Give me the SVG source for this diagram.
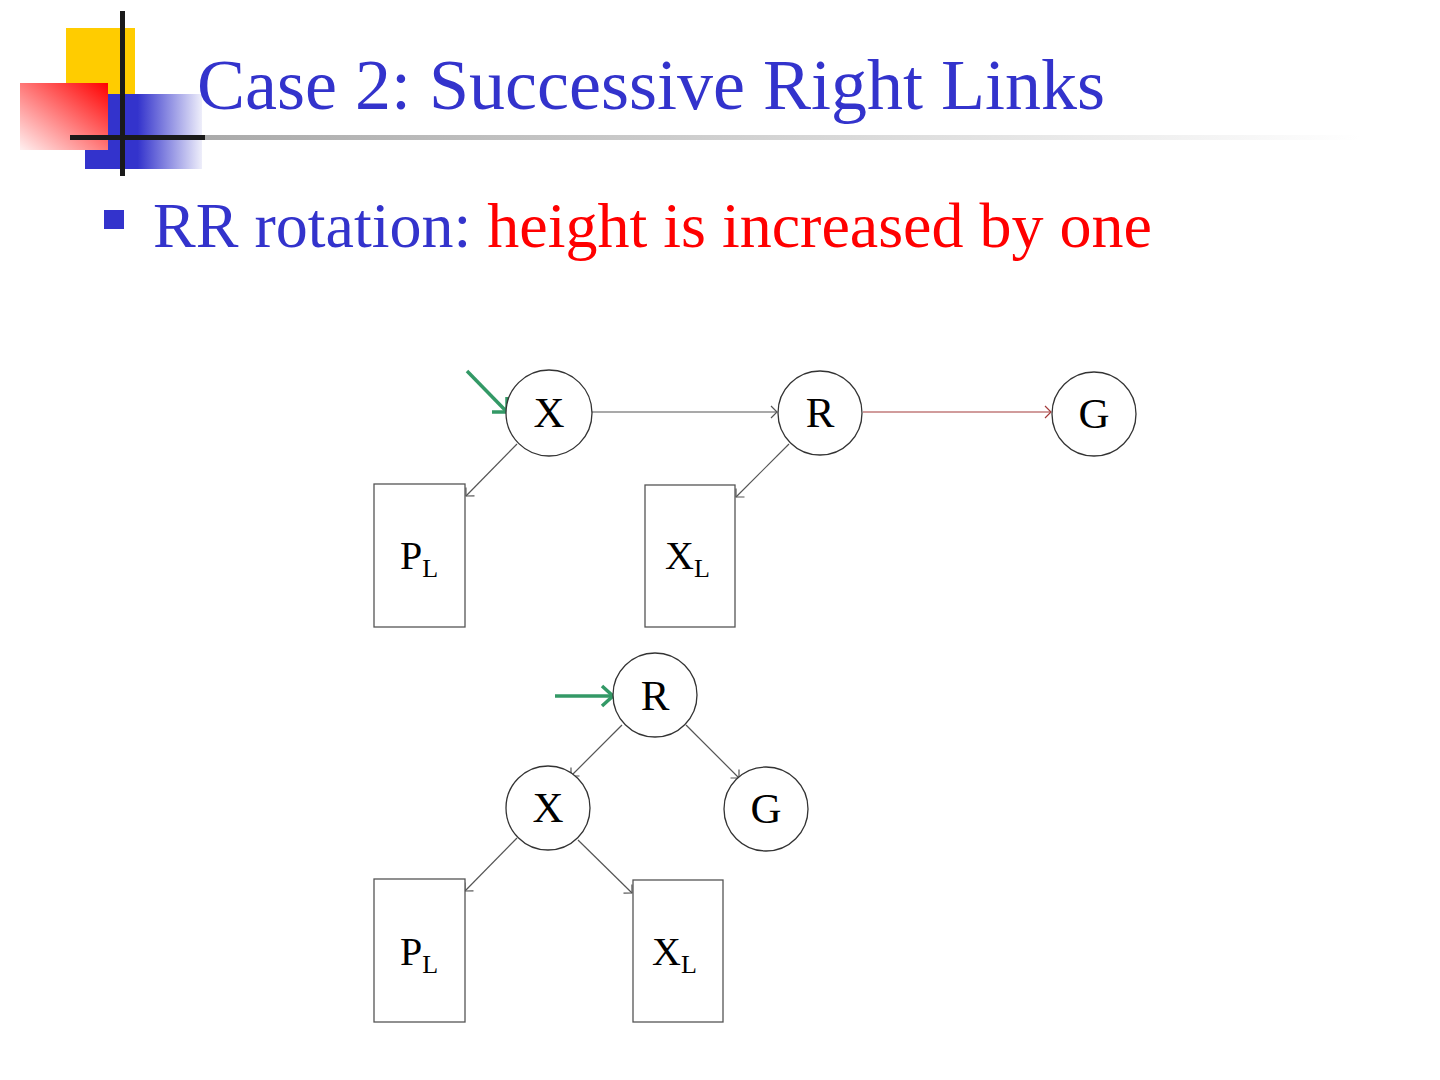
<svg xmlns="http://www.w3.org/2000/svg" width="1440" height="1080" viewBox="0 0 1440 1080">
<style>
.node circle{fill:#fff;stroke:#333;stroke-width:1.3}
.node rect{fill:#fff;stroke:#555;stroke-width:1.3}
.lbl{font-family:"Liberation Serif","Times New Roman",serif;fill:#000;font-size:43px}
.box{font-family:"Liberation Serif","Times New Roman",serif;fill:#000;font-size:40px}
.conn line{stroke:#555;stroke-width:1.2;fill:none}
.conn line.red{stroke:#a33a3a}
.conn .green{stroke:#339966;stroke-width:3.5;fill:none;stroke-linecap:butt}
</style>
<defs>
<linearGradient id="gRed" x1="1" y1="0" x2="0" y2="1">
<stop offset="0" stop-color="#ff0000"/>
<stop offset="1" stop-color="#fff0f0"/>
</linearGradient>
<linearGradient id="gBlue" x1="0" y1="0" x2="1" y2="0">
<stop offset="0" stop-color="#3333cc"/>
<stop offset="0.45" stop-color="#3333cc"/>
<stop offset="1" stop-color="#eeeefa"/>
</linearGradient>
<linearGradient id="gLine" x1="0" y1="0" x2="1" y2="0">
<stop offset="0" stop-color="#aaaaaa"/>
<stop offset="1" stop-color="#ffffff"/>
</linearGradient>
<marker id="ah" markerUnits="userSpaceOnUse" markerWidth="14" markerHeight="14" viewBox="-1 -7 9 14" refX="7" refY="0" orient="auto">
<path d="M1,-6 L7,0 L1,6" fill="none" stroke="#555" stroke-width="1.2"/>
</marker>
<marker id="ahr" markerUnits="userSpaceOnUse" markerWidth="14" markerHeight="14" viewBox="-1 -7 9 14" refX="7" refY="0" orient="auto">
<path d="M1,-6 L7,0 L1,6" fill="none" stroke="#a33a3a" stroke-width="1.2"/>
</marker>
</defs>

<g id="logo">
<rect x="66" y="28" width="69" height="66" fill="#ffcc00"/>
<rect x="85" y="94" width="117" height="75" fill="url(#gBlue)"/>
<rect x="20" y="83" width="88" height="67" fill="url(#gRed)"/>
<rect x="205" y="135" width="1155" height="5" fill="url(#gLine)"/>
<rect x="70" y="135" width="135" height="5" fill="#1a1a1a"/>
<rect x="120" y="11" width="5" height="165" fill="#1a1a1a"/>
</g>

<text id="title" x="197" y="109" font-family="Liberation Serif, Times New Roman, serif" font-size="72" fill="#3333cc">Case 2: Successive Right Links</text>

<g id="bullet">
<rect x="104" y="210" width="20" height="19" fill="#3333cc"/>
<text x="153" y="247" font-family="Liberation Serif, Times New Roman, serif" font-size="64"><tspan fill="#3333cc">RR rotation: </tspan><tspan fill="#ff0000">height is increased by one</tspan></text>
</g>

<g id="connectors" class="conn">
<line x1="592" y1="412" x2="777" y2="412" marker-end="url(#ah)"/>
<line class="red" x1="863" y1="412" x2="1051" y2="412" marker-end="url(#ahr)"/>
<line x1="517" y1="444" x2="466" y2="496" marker-end="url(#ah)"/>
<line x1="789" y1="444" x2="736" y2="497" marker-end="url(#ah)"/>
<line x1="622" y1="725" x2="571" y2="776" marker-end="url(#ah)"/>
<line x1="686" y1="725" x2="739" y2="778" marker-end="url(#ah)"/>
<line x1="517" y1="838" x2="465" y2="891" marker-end="url(#ah)"/>
<line x1="578" y1="840" x2="632" y2="893" marker-end="url(#ah)"/>
<g id="pointer1">
<line class="green" x1="467" y1="371" x2="506" y2="411"/>
<path class="green" d="M492,412 L507,412 L507,397"/>
</g>
<g id="pointer2">
<line class="green" x1="555" y1="696" x2="612" y2="696"/>
<path class="green" d="M602,686 L613,696 L602,706"/>
</g>
</g>

<g id="node-X1" class="node">
<circle cx="549" cy="413" r="43"/>
<text class="lbl" x="549" y="427" text-anchor="middle">X</text>
</g>
<g id="node-R1" class="node">
<circle cx="820" cy="413" r="42"/>
<text class="lbl" x="820" y="427" text-anchor="middle">R</text>
</g>
<g id="node-G1" class="node">
<circle cx="1094" cy="414" r="42"/>
<text class="lbl" x="1094" y="428" text-anchor="middle">G</text>
</g>
<g id="node-PL1" class="node">
<rect x="374" y="484" width="91" height="143"/>
<text class="box" x="400" y="569">P<tspan font-size="26" dy="8">L</tspan></text>
</g>
<g id="node-XL1" class="node">
<rect x="645" y="485" width="90" height="142"/>
<text class="box" x="665" y="569">X<tspan font-size="26" dy="8">L</tspan></text>
</g>

<g id="node-R2" class="node">
<circle cx="655" cy="695" r="42"/>
<text class="lbl" x="655" y="710" text-anchor="middle">R</text>
</g>
<g id="node-X2" class="node">
<circle cx="548" cy="808" r="42"/>
<text class="lbl" x="548" y="822" text-anchor="middle">X</text>
</g>
<g id="node-G2" class="node">
<circle cx="766" cy="809" r="42"/>
<text class="lbl" x="766" y="823" text-anchor="middle">G</text>
</g>
<g id="node-PL2" class="node">
<rect x="374" y="879" width="91" height="143"/>
<text class="box" x="400" y="965">P<tspan font-size="26" dy="8">L</tspan></text>
</g>
<g id="node-XL2" class="node">
<rect x="633" y="880" width="90" height="142"/>
<text class="box" x="652" y="965">X<tspan font-size="26" dy="8">L</tspan></text>
</g>
</svg>
